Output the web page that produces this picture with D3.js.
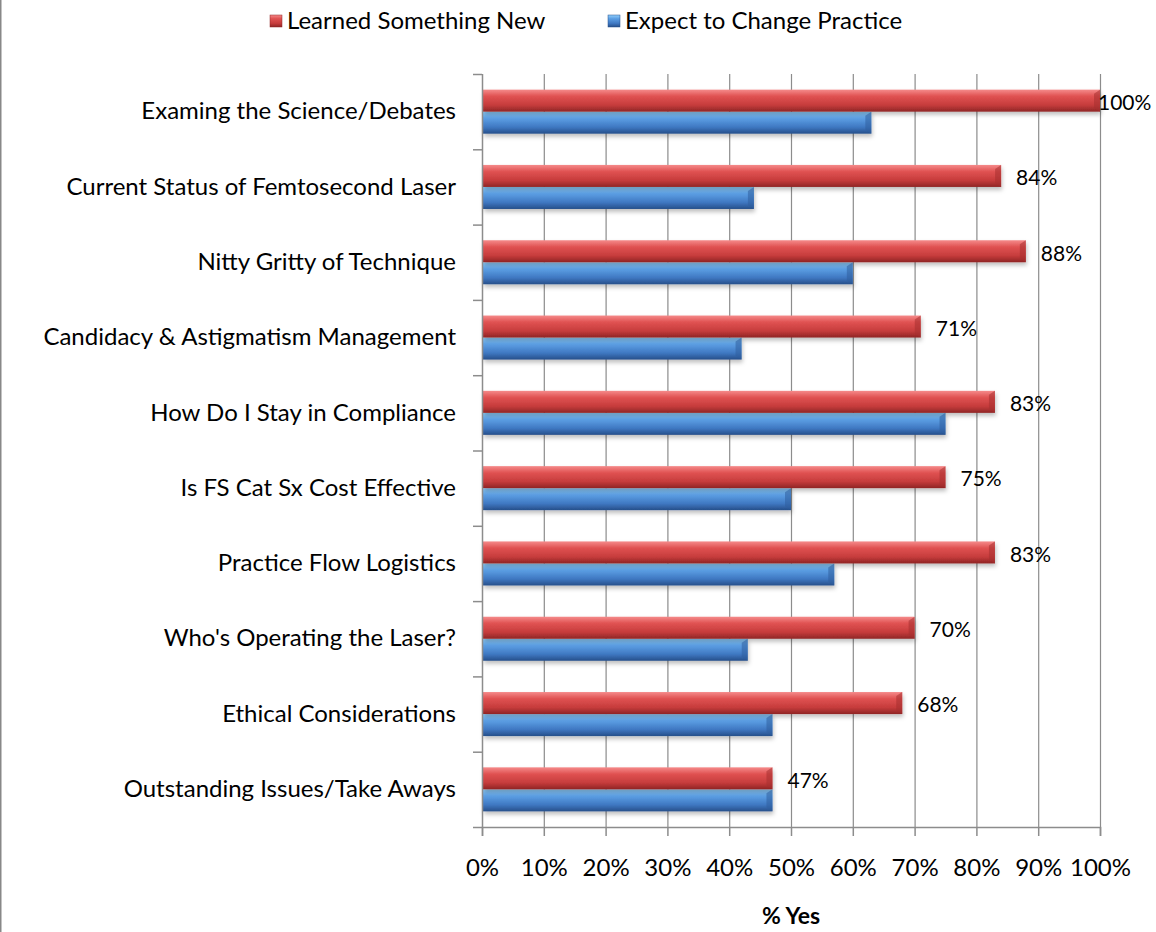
<!DOCTYPE html>
<html>
<head>
<meta charset="utf-8">
<script src="https://cdn.jsdelivr.net/npm/d3@7"></script>
<style>
  body { margin: 0; background: #fff; }
  svg { display: block; font-family: Lato, "Open Sans", sans-serif; }
</style>
</head>
<body>
<svg id="chart"></svg>
<script>
const categories = [
  'Examing the Science/Debates',
  'Current Status of Femtosecond Laser',
  'Nitty Gritty of Technique',
  'Candidacy & Astigmatism Management',
  'How Do I Stay in Compliance',
  'Is FS Cat Sx Cost Effective',
  'Practice Flow Logistics',
  "Who's Operating the Laser?",
  'Ethical Considerations',
  'Outstanding Issues/Take Aways'
];
const seriesNames = ['Learned Something New', 'Expect to Change Practice'];
const learned = [100, 84, 88, 71, 83, 75, 83, 70, 68, 47];
const expect = [63, 44, 60, 42, 75, 50, 57, 43, 47, 47];
const xTicks = [0, 10, 20, 30, 40, 50, 60, 70, 80, 90, 100];

const W = 1156, H = 932;
const margin = {top: 74, bottom: 105, left: 482, right: 56};
const width = W - margin.left - margin.right;
const height = H - margin.top - margin.bottom;

const $svg = d3.select('#chart').attr('width', W).attr('height', H);

// gradients for the bevelled bars
const defs = $svg.append('defs');
const palettes = {
  red: ['#f58a8a', '#e05252', '#c63c3c', '#8f2525'],
  blue: ['#92d0fc', '#5c9fe4', '#3f78c2', '#264f8a']
};
Object.keys(palettes).forEach(function(k) {
  const g = defs.append('linearGradient').attr('id', 'grad-' + k)
    .attr('x1', 0).attr('y1', 0).attr('x2', 0).attr('y2', 1);
  const c = palettes[k];
  g.append('stop').attr('offset', '0%').attr('stop-color', c[0]);
  g.append('stop').attr('offset', '30%').attr('stop-color', c[1]);
  g.append('stop').attr('offset', '70%').attr('stop-color', c[2]);
  g.append('stop').attr('offset', '100%').attr('stop-color', c[3]);
});
defs.append('filter').attr('id', 'shadow')
  .attr('x', '-5%').attr('y', '-20%').attr('width', '110%').attr('height', '160%')
  .append('feDropShadow').attr('dx', 1).attr('dy', 3).attr('stdDeviation', 2)
  .attr('flood-color', '#000').attr('flood-opacity', 0.25);

// left frame edge
$svg.append('line')
  .attr('x1', 0.75).attr('x2', 0.75).attr('y1', 0).attr('y2', H)
  .style('stroke', '#888').style('stroke-width', 1.5);

// scales
const scaleX = d3.scaleLinear().domain([0, 100]).range([0, width]);
const scaleY = d3.scaleBand().domain(categories).range([0, height]).padding(0);
const scaleS = d3.scaleBand().domain(seriesNames)
  .range([0, scaleY.bandwidth()]).paddingInner(0).paddingOuter(0.71);

const $vis = $svg.append('g')
  .attr('transform', 'translate(' + margin.left + ',' + margin.top + ')');

// gridlines
$vis.append('g').selectAll('line')
  .data(xTicks.slice(1))
  .enter().append('line')
  .attr('x1', d => scaleX(d) + 0.5).attr('x2', d => scaleX(d) + 0.5)
  .attr('y1', 0).attr('y2', height)
  .style('stroke', '#8c8c8c').style('stroke-width', 1.2);

// bars
const rows = categories.map(function(c, i) {
  return [
    {cat: c, s: seriesNames[0], v: learned[i], color: 'red'},
    {cat: c, s: seriesNames[1], v: expect[i], color: 'blue'}
  ];
});
const $groups = $vis.selectAll('.cat')
  .data(rows).enter().append('g')
  .attr('class', 'cat')
  .attr('transform', d => 'translate(0,' + scaleY(d[0].cat) + ')');

$groups.selectAll('rect.bar')
  .data(d => d.slice().reverse())
  .enter().append('rect')
  .attr('class', 'bar')
  .attr('x', 1)
  .attr('y', d => scaleS(d.s))
  .attr('width', d => scaleX(d.v) - 1)
  .attr('height', scaleS.bandwidth())
  .attr('filter', 'url(#shadow)')
  .style('fill', d => 'url(#grad-' + d.color + ')');

// bevel at bar ends
$groups.selectAll('path.bevel')
  .data(d => d)
  .enter().append('path')
  .attr('class', 'bevel')
  .attr('d', function(d) {
    const x = scaleX(d.v), y = scaleS(d.s), h = scaleS.bandwidth();
    return 'M' + (x - 6) + ',' + (y + 4) + 'L' + x + ',' + y + 'L' + x + ',' + (y + h) +
      'L' + (x - 6) + ',' + (y + h - 4) + 'Z';
  })
  .style('fill', d => d.color === 'red' ? '#a63030' : '#2f5e9e')
  .style('opacity', 0.55);

// value labels for the first series
$groups.append('text')
  .attr('x', d => Math.min(scaleX(d[0].v) + 15, width - 2))
  .attr('y', d => scaleS(seriesNames[0]) + scaleS.bandwidth() / 2 + 2)
  .attr('dy', '0.35em')
  .style('font-size', '21px')
  .style('fill', '#000')
  .text(d => d[0].v + '%');

// y axis
const $yAxis = $vis.append('g')
  .call(d3.axisLeft(scaleY).tickSize(0).tickPadding(26));
$yAxis.select('.domain').remove();
$yAxis.selectAll('text').style('font-size', '24px').style('fill', '#000')
  .style('font-family', 'Lato, "Open Sans", sans-serif');
$vis.append('line')
  .attr('x1', 0.5).attr('x2', 0.5).attr('y1', 0).attr('y2', height)
  .style('stroke', '#8c8c8c').style('stroke-width', 1.5);
$vis.append('g').selectAll('line')
  .data(d3.range(categories.length + 1))
  .enter().append('line')
  .attr('x1', -9).attr('x2', 0)
  .attr('y1', i => i * scaleY.step() + 0.5).attr('y2', i => i * scaleY.step() + 0.5)
  .style('stroke', '#8c8c8c').style('stroke-width', 1.5);

// x axis
const $xAxis = $vis.append('g')
  .attr('transform', 'translate(0,' + height + ')')
  .call(d3.axisBottom(scaleX).tickValues(xTicks).tickSize(9).tickPadding(23)
    .tickFormat(d => d + '%'));
$xAxis.select('.domain').style('stroke', '#8c8c8c').style('stroke-width', 1.5);
$xAxis.selectAll('.tick line').style('stroke', '#8c8c8c').style('stroke-width', 1.5);
$xAxis.selectAll('text').style('font-size', '24px').style('fill', '#000')
  .style('font-family', 'Lato, "Open Sans", sans-serif');

$vis.append('text')
  .attr('x', width / 2)
  .attr('y', height + 97)
  .attr('text-anchor', 'middle')
  .style('font-size', '23px')
  .style('font-weight', 'bold')
  .text('% Yes');

// legend
const legendX = [270, 608];
const $legend = $svg.append('g').selectAll('g')
  .data(seriesNames).enter().append('g')
  .attr('transform', (d, i) => 'translate(' + legendX[i] + ',15)');
$legend.append('rect')
  .attr('width', 12).attr('height', 12)
  .style('fill', (d, i) => 'url(#grad-' + (i === 0 ? 'red' : 'blue') + ')')
  .style('stroke', (d, i) => i === 0 ? '#8f2525' : '#264f8a').style('stroke-width', 0.5);
$legend.append('text')
  .attr('x', 17).attr('y', 6).attr('dy', '0.35em')
  .style('font-size', '24px')
  .text(d => d);
</script>
</body>
</html>
